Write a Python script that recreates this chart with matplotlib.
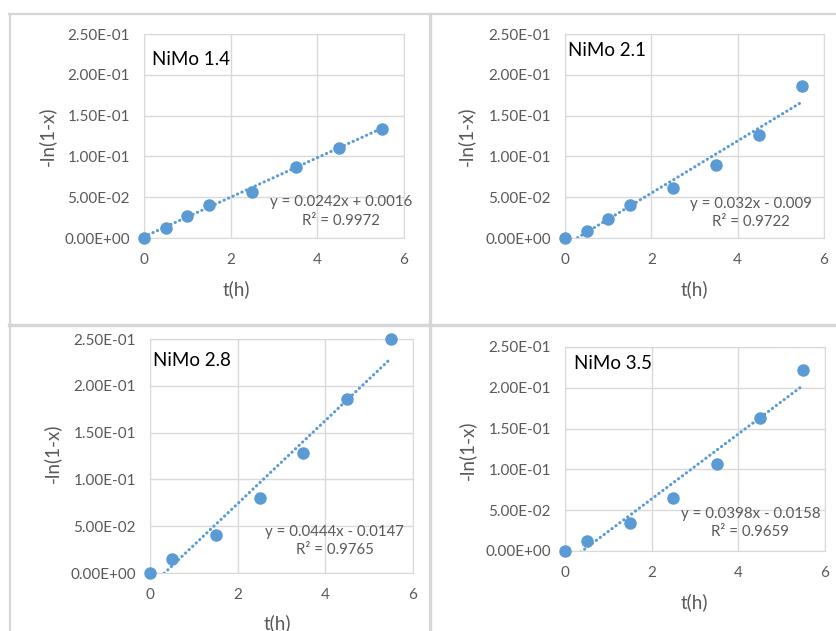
import numpy as np
import matplotlib
matplotlib.use("Agg")
import matplotlib.pyplot as plt
from matplotlib.lines import Line2D
from matplotlib.ticker import FormatStrFormatter

plt.rcParams['font.family'] = ['Lato', 'DejaVu Sans']

# data
titles = ["NiMo 1.4", "NiMo 2.1", "NiMo 2.8", "NiMo 3.5"]

t_14 = [0, 0.5, 1, 1.5, 2.5, 3.5, 4.5, 5.5]
y_14 = [0, 0.0119, 0.0273, 0.0400, 0.0562, 0.0866, 0.1103, 0.1336]

t_21 = [0, 0.5, 1, 1.5, 2.5, 3.5, 4.5, 5.5]
y_21 = [0, 0.0081, 0.0228, 0.0408, 0.0616, 0.0890, 0.1266, 0.1858]

t_28 = [0, 0.5, 1.5, 2.5, 3.5, 4.5, 5.5]
y_28 = [0, 0.0149, 0.0406, 0.0800, 0.1281, 0.1864, 0.2497]

t_35 = [0, 0.5, 1.5, 2.5, 3.5, 4.5, 5.5]
y_35 = [0, 0.0126, 0.0339, 0.0653, 0.1070, 0.1635, 0.2223]

slopes = [0.0242, 0.032, 0.0444, 0.0398]
intercepts = [0.0016, -0.009, -0.0147, -0.0158]
eq_texts = ["y = 0.0242x + 0.0016\nR² = 0.9972",
            "y = 0.032x - 0.009\nR² = 0.9722",
            "y = 0.0444x - 0.0147\nR² = 0.9765",
            "y = 0.0398x - 0.0158\nR² = 0.9659"]

times = [t_14, t_21, t_28, t_35]
values = [y_14, y_21, y_28, y_35]

blue = '#5B9BD5'
grid_c = '#D9D9D9'
txt_c = '#595959'

fig = plt.figure(figsize=(8.37, 6.31), dpi=100)

# axes rectangles [left, bottom, width, height] in figure fractions
rects = [[0.1720, 0.6228, 0.3106, 0.3233],
         [0.6750, 0.6228, 0.3094, 0.3233],
         [0.1792, 0.0919, 0.3142, 0.3708],
         [0.6750, 0.1268, 0.3106, 0.3233]]
title_pos = [(0.031, 0.873), (0.013, 0.918), (0.013, 0.907), (0.035, 0.92)]
eq_pos = [(0.758, 0.13), (0.718, 0.123), (0.703, 0.137), (0.713, 0.137)]
xlab_pos = [(0.354, -0.25), (0.498, -0.25), (0.483, -0.214), (0.496, -0.25)]
ylab_pos = [(-0.374, 0.497), (-0.38, 0.497), (-0.374, 0.513), (-0.378, 0.495)]

for i in range(4):
    ax = fig.add_axes(rects[i])
    ax.set_xlim(0, 6)
    ax.set_ylim(0, 0.25)
    ax.set_xticks([0, 2, 4, 6])
    ax.set_yticks(np.arange(0, 0.2501, 0.05))
    ax.yaxis.set_major_formatter(FormatStrFormatter('%.2E'))
    ax.grid(True, color=grid_c, linewidth=1)
    ax.set_axisbelow(True)
    for s in ax.spines.values():
        s.set_color(grid_c)
    ax.tick_params(length=0, labelsize=11, labelcolor=txt_c)
    ax.tick_params(axis='y', pad=10)
    ax.tick_params(axis='x', pad=11)

    # trendline
    xs = np.array([0, 5.5])
    ax.plot(xs, slopes[i] * xs + intercepts[i], linestyle=(0, (0.1, 1.5)),
            color=blue, linewidth=2.2, dash_capstyle='round')
    ax.scatter(times[i], values[i], s=64, color=blue, zorder=3,
               clip_on=False)

    ax.text(*title_pos[i], titles[i], transform=ax.transAxes, fontsize=13.5,
            color='black', ha='left', va='center')
    ax.text(*eq_pos[i], eq_texts[i], transform=ax.transAxes, fontsize=10.8,
            color=txt_c, ha='center', va='center', multialignment='center',
            linespacing=1.4)

    ax.set_xlabel('t(h)', fontsize=13.5, color=txt_c, va='center')
    ax.xaxis.set_label_coords(*xlab_pos[i])
    ax.set_ylabel('-ln(1-x)', fontsize=13.5, color=txt_c, va='center')
    ax.yaxis.set_label_coords(*ylab_pos[i])

# chart frames
W, H = 837, 631
def frame(x0, y0, x1, y1, lw):
    fig.add_artist(Line2D([x0 / W, x1 / W], [1 - y0 / H, 1 - y1 / H],
                          transform=fig.transFigure, color='#D6D6D6',
                          linewidth=lw))

frame(9, 14, 837, 14, 1.6)
frame(10, 14, 10, 631, 1.6)
frame(430, 14, 430, 631, 2.4)
frame(9, 324.5, 837, 324.5, 2.4)

fig.savefig('out.png', dpi=100)
